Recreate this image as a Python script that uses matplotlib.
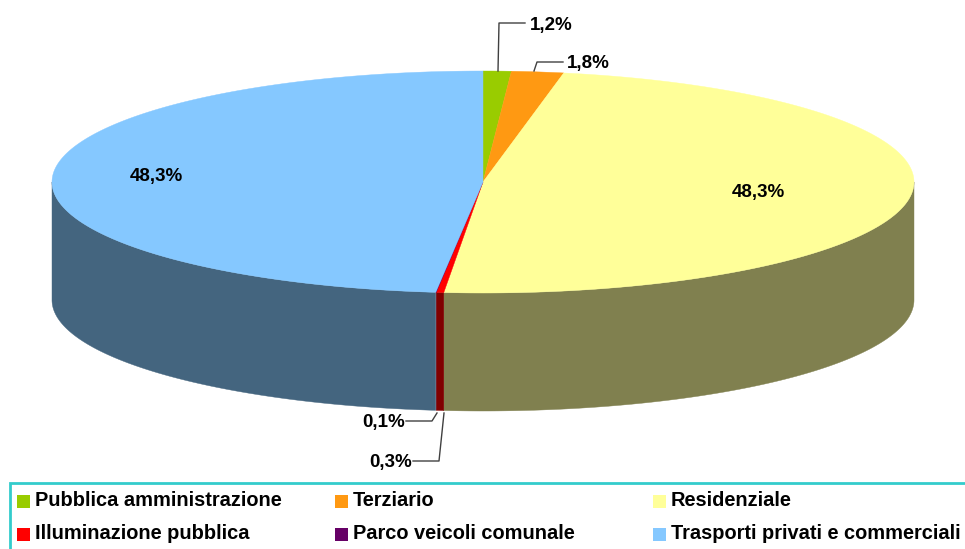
import numpy as np
import matplotlib
matplotlib.use('Agg')
import matplotlib.pyplot as plt
from matplotlib.patches import Polygon, Rectangle

plt.rcParams['font.family'] = ['Liberation Sans', 'DejaVu Sans']

# shares as measured on the drawn slices, printed labels kept apart
categories = ['Pubblica amministrazione', 'Terziario', 'Residenziale',
              'Illuminazione pubblica', 'Parco veicoli comunale',
              'Trasporti privati e commerciali']
shares = [1.05, 1.95, 48.45, 0.28, 0.02, 48.25]
labels = ['1,2%', '1,8%', '48,3%', '0,3%', '0,1%', '48,3%']
colors = ['#99CC00', '#FF9912', '#FFFF99', '#FF0000', '#660066', '#85C8FF']
side_colors = ['#4C6600', '#804C00', '#80804F', '#800000', '#330033', '#44657F']

cx, cy, a, b = 483, 182, 431, 111
depth = 118
fs = 13.5


def arc(t0, t1, n=200):
    t = np.linspace(t0, t1, n)
    return cx + a*np.sin(t), cy - b*np.cos(t)


fig = plt.figure(figsize=(9.65, 5.49), dpi=100)
ax = fig.add_axes([0, 0, 1, 1])
ax.set_xlim(0, 965)
ax.set_ylim(549, 0)
ax.set_axis_off()

edges = 2*np.pi*np.cumsum([0] + shares)/sum(shares)

# side wall, only the front half of the disc shows
for i in range(len(shares)):
    t0 = max(edges[i], np.pi/2)
    t1 = min(edges[i+1], 3*np.pi/2)
    if t1 <= t0:
        continue
    x, y = arc(t0, t1)
    pts = np.r_[np.c_[x, y], np.c_[x[::-1], y[::-1] + depth]]
    ax.add_patch(Polygon(pts, fc=side_colors[i], ec=side_colors[i], lw=0.3))

# top of the disc
for i in range(len(shares)):
    x, y = arc(edges[i], edges[i+1])
    pts = np.r_[[[cx, cy]], np.c_[x, y]]
    ax.add_patch(Polygon(pts, fc=colors[i], ec=colors[i], lw=0.3))

# leader lines
lc = '#404040'
ax.plot([498, 499, 525], [71, 23, 23], color=lc, lw=1)
ax.plot([534, 537, 563], [71, 62, 62], color=lc, lw=1)
ax.plot([437, 432, 406], [413, 421, 421], color=lc, lw=1)
ax.plot([444, 439, 413], [413, 461, 461], color=lc, lw=1)

lab_pos = [(530, 25.5, 'left'), (567, 63.5, 'left'), (758, 192.5, 'center'),
           (412, 462.5, 'right'), (405, 422.5, 'right'), (156, 176.5, 'center')]
for s, (x, y, ha) in zip(labels, lab_pos):
    ax.text(x, y, s, ha=ha, va='center', fontsize=fs, fontweight='bold', color='black')

# legend box runs off the right and bottom of the picture
ax.add_patch(Rectangle((10, 483), 1000, 100, fc='white', ec='#33CCCC', lw=2))
col_x = [17, 335, 653]
row_y = [495, 528]
for i, name in enumerate(categories):
    x = col_x[i % 3]
    y = row_y[i // 3]
    ax.add_patch(Rectangle((x, y), 13, 13, fc=colors[i], ec='none'))
    ax.text(x + 18, y + 5.5, name, ha='left', va='center', fontsize=14.4, fontweight='bold', color='black')

fig.savefig('out.png', dpi=100)
